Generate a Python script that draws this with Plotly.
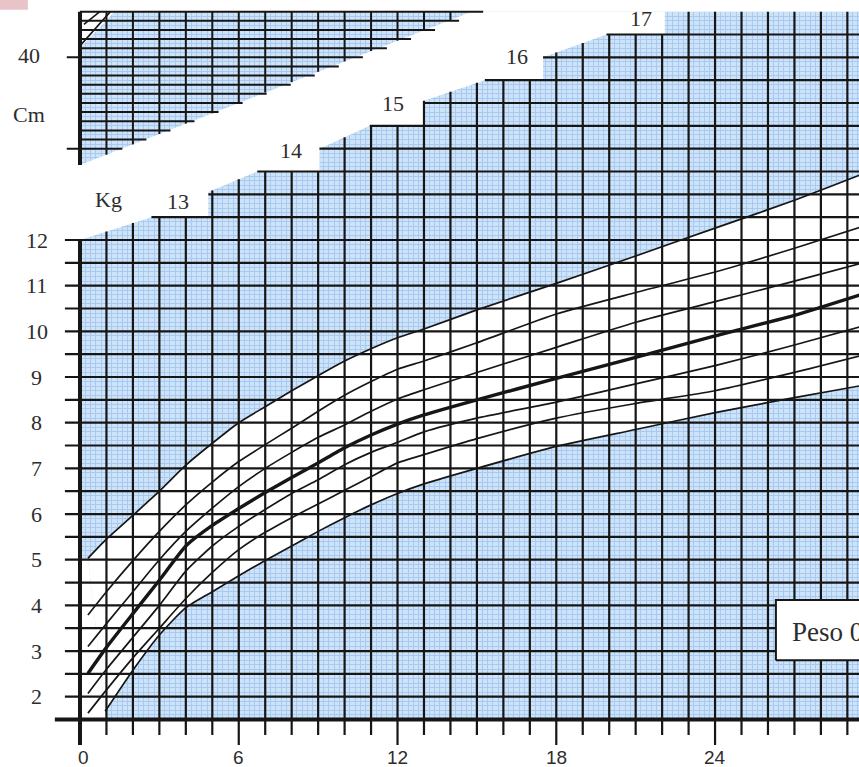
import plotly.graph_objects as go

MONTHS = [0.3, 1, 2, 3, 4, 5, 6, 7, 8, 9, 10, 11, 12, 13, 15, 18, 21, 24, 27, 29.6]
BOTTOM_MONTHS = [0.95, 2, 3, 4, 5, 6, 7, 8, 9, 10, 11, 12, 13, 15, 18, 21, 24, 27, 29.6]

# weight (kg) curves, top to bottom
CURVE_TOP = [5.03, 5.45, 5.97, 6.5, 7.07, 7.55, 8.0, 8.35, 8.7, 9.03, 9.35, 9.62, 9.86, 10.05, 10.47, 11.05, 11.65, 12.26, 12.87, 13.45]
CURVE_2 = [3.79, 4.3, 4.98, 5.62, 6.2, 6.7, 7.15, 7.52, 7.88, 8.25, 8.6, 8.9, 9.17, 9.35, 9.75, 10.38, 10.85, 11.3, 11.82, 12.3]
CURVE_3 = [3.1, 3.6, 4.3, 5.0, 5.62, 6.13, 6.6, 7.0, 7.35, 7.68, 7.95, 8.25, 8.52, 8.72, 9.1, 9.65, 10.2, 10.65, 11.1, 11.5]
CURVE_MEDIAN = [2.51, 3.08, 3.82, 4.55, 5.3, 5.75, 6.12, 6.47, 6.8, 7.12, 7.45, 7.73, 7.97, 8.17, 8.5, 8.97, 9.43, 9.9, 10.35, 10.82]
CURVE_5 = [2.07, 2.6, 3.3, 4.0, 4.75, 5.3, 5.73, 6.1, 6.45, 6.75, 7.08, 7.35, 7.57, 7.8, 8.1, 8.45, 8.85, 9.25, 9.7, 10.12]
CURVE_6 = [1.64, 2.15, 2.85, 3.5, 4.15, 4.72, 5.22, 5.6, 5.92, 6.22, 6.52, 6.82, 7.12, 7.3, 7.65, 8.1, 8.42, 8.7, 9.1, 9.48]
CURVE_BOTTOM = [1.68, 2.58, 3.35, 3.95, 4.3, 4.65, 4.98, 5.3, 5.62, 5.92, 6.2, 6.45, 6.66, 7.0, 7.48, 7.85, 8.22, 8.55, 8.82]

# tick labels
KG_LABELS = [2, 3, 4, 5, 6, 7, 8, 9, 10, 11, 12]
MONTH_LABELS = [0, 6, 12, 18, 24]
STEP_LABELS = ["13", "14", "15", "16", "17"]
STEP_LABEL_MONTH = [3.71, 7.98, 11.84, 16.5, 21.19]
STEP_LABEL_KG = [12.85, 13.95, 14.98, 16.01, 16.85]

# upper edge of the kg grid (staircase) and lower edge of the cm grid
STAIR_MONTH = [0, 2.7, 4.85, 4.85, 6.7, 9.05, 9.05, 10.95, 13.0, 13.0, 15.3, 17.5, 17.5, 19.9, 22.1, 22.1]
STAIR_KG = [12.0, 12.5, 12.5, 13.05, 13.5, 13.5, 14.0, 14.5, 14.5, 15.05, 15.5, 15.5, 16.0, 16.5, 16.5, 17.0]
CM_EDGE_MONTH = [0, 14.8]
CM_EDGE_KG = [13.64, 17.0]

# small hatched corner of the cm chart
HATCH_MONTH = [[0, 1.15], [0.15, 0.75]]
HATCH_KG = [[16.25, 17.0], [16.72, 17.0]]

X_MIN, X_MAX = -3.023, 29.44
Y_MIN, Y_MAX = 0.461, 17.255
AXIS_KG = 1.5
TOP_KG = 17.0

INK = "#161616"
BLUE = "#cce3fa"
FINE = "#a9caee"
SERIF = "Liberation Serif"
SANS = "Liberation Sans"


def stair_start(level):
    pts = list(zip(STAIR_MONTH, STAIR_KG))
    for (x0, y0), (x1, y1) in zip(pts, pts[1:]):
        if y0 < level <= y1:
            if x1 == x0:
                return x0
            return x0 + (level - y0) / (y1 - y0) * (x1 - x0)
    return STAIR_MONTH[-1]


def stair_top(m):
    pts = list(zip(STAIR_MONTH, STAIR_KG))
    best = None
    for (x0, y0), (x1, y1) in zip(pts, pts[1:]):
        if x0 <= m <= x1:
            if x1 == x0:
                val = max(y0, y1)
            else:
                val = y0 + (m - x0) / (x1 - x0) * (y1 - y0)
            best = val if best is None else max(best, val)
    return TOP_KG if best is None else best


def cm_edge(m):
    slope = (CM_EDGE_KG[1] - CM_EDGE_KG[0]) / (CM_EDGE_MONTH[1] - CM_EDGE_MONTH[0])
    return CM_EDGE_KG[0] + slope * m


def lines(xs, ys, width, color=INK):
    return go.Scatter(x=xs, y=ys, mode="lines", line=dict(color=color, width=width),
                      hoverinfo="skip", showlegend=False)


def white_poly(xs, ys, color="white"):
    return go.Scatter(x=xs, y=ys, mode="lines", fill="toself", fillcolor=color,
                      line=dict(width=0), hoverinfo="skip", showlegend=False)


fig = go.Figure()

# white band between the outer curves
spl = dict(shape="spline", smoothing=0.6, width=0)
fig.add_trace(go.Scatter(x=BOTTOM_MONTHS, y=CURVE_BOTTOM, mode="lines", line=spl,
                         hoverinfo="skip", showlegend=False))
fig.add_trace(go.Scatter(x=MONTHS, y=CURVE_TOP, mode="lines", line=spl, fill="tonexty",
                         fillcolor="white", hoverinfo="skip", showlegend=False))
fig.add_trace(white_poly([0, BOTTOM_MONTHS[0], BOTTOM_MONTHS[0], MONTHS[0], 0],
                         [AXIS_KG, AXIS_KG, CURVE_BOTTOM[0], CURVE_TOP[0], CURVE_TOP[0]]))

# white surroundings: left margin, bottom, top strip and gap between kg and cm grids
fig.add_trace(white_poly([X_MIN - 1, 0, 0, X_MIN - 1], [Y_MIN - 1, Y_MIN - 1, Y_MAX + 1, Y_MAX + 1]))
fig.add_trace(white_poly([X_MIN - 1, X_MAX + 1, X_MAX + 1, X_MIN - 1], [Y_MIN - 1, Y_MIN - 1, AXIS_KG, AXIS_KG]))
fig.add_trace(white_poly([X_MIN - 1, X_MAX + 1, X_MAX + 1, X_MIN - 1], [TOP_KG, TOP_KG, Y_MAX + 1, Y_MAX + 1]))
fig.add_trace(white_poly(STAIR_MONTH + [CM_EDGE_MONTH[1], CM_EDGE_MONTH[0]],
                         STAIR_KG + [CM_EDGE_KG[1], CM_EDGE_KG[0]]))
fig.add_trace(white_poly([0, 1.3, 0], [TOP_KG, TOP_KG, 16.2]))

# kg grid: horizontal lines every 0.5 kg
hx, hy = [], []
for i in range(4, 34):
    lvl = i * 0.5
    x0 = -0.57 if lvl <= 12 else stair_start(lvl)
    hx += [x0, X_MAX + 1, None]
    hy += [lvl, lvl, None]
fig.add_trace(lines(hx, hy, 2.2))

# kg grid: vertical lines every month, with ticks under the axis
vx, vy = [], []
for m in range(1, 30):
    y0 = 0.94 if m % 6 == 0 else 1.16
    vx += [m, m, None]
    vy += [y0, stair_top(m), None]
fig.add_trace(lines(vx, vy, 2.2))

# cm grid
cx, cy = [], []
for k in range(16):
    lvl = round(14.0 + 0.2 * k, 2)
    x0 = -0.5 if k in (0, 10) else 0
    cx += [x0, 1.6 + (lvl - 14.0) / 0.22, None]
    cy += [lvl, lvl, None]
for m in range(1, 15):
    cx += [m, m, None]
    cy += [cm_edge(m), TOP_KG, None]
fig.add_trace(lines(cx, cy, 2.0))

# heavy axes
fig.add_trace(lines([-0.95, X_MAX + 1], [AXIS_KG, AXIS_KG], 4))
fig.add_trace(lines([0, 0, None, 0, 0], [0.94, 12.0, None, CM_EDGE_KG[0], TOP_KG], 4))

# hatch marks in the cm corner
for hxs, hys in zip(HATCH_MONTH, HATCH_KG):
    fig.add_trace(lines(hxs, hys, 1.6))

# percentile curves
for vals in [CURVE_TOP, CURVE_2, CURVE_3, CURVE_5, CURVE_6]:
    fig.add_trace(go.Scatter(x=MONTHS, y=vals, mode="lines",
                             line=dict(color=INK, width=1.7, shape="spline", smoothing=0.6),
                             hoverinfo="skip", showlegend=False))
fig.add_trace(go.Scatter(x=BOTTOM_MONTHS, y=CURVE_BOTTOM, mode="lines",
                         line=dict(color=INK, width=1.7, shape="spline", smoothing=0.6),
                         hoverinfo="skip", showlegend=False))
fig.add_trace(go.Scatter(x=MONTHS, y=CURVE_MEDIAN, mode="lines",
                         line=dict(color=INK, width=3.4, shape="spline", smoothing=0.5),
                         hoverinfo="skip", showlegend=False))

# title box (cut off at the right edge)
fig.add_trace(go.Scatter(x=[26.3, 31, 31, 26.3, 26.3], y=[2.8, 2.8, 4.12, 4.12, 2.8], mode="lines",
                         fill="toself", fillcolor="white", line=dict(color=INK, width=2),
                         hoverinfo="skip", showlegend=False))

# pink scan mark in the corner
fig.add_trace(white_poly([X_MIN - 1, -1.97, -1.97, X_MIN - 1], [17.04, 17.04, Y_MAX + 1, Y_MAX + 1],
                         color="#e8c4c8"))

ann = []
for v in KG_LABELS:
    ann.append(dict(x=-1.63, y=v, text=str(v), font=dict(family=SERIF, size=22, color="#2d2d2d")))
for v in MONTH_LABELS:
    ann.append(dict(x=v + (0.12 if v == 0 else 0), y=0.68, text=str(v),
                    font=dict(family=SANS, size=19, color="#2d2d2d")))
for t, mx, ky in zip(STEP_LABELS, STEP_LABEL_MONTH, STEP_LABEL_KG):
    ann.append(dict(x=mx, y=ky, text=t, font=dict(family=SERIF, size=22, color="#2d2d2d")))
ann.append(dict(x=-1.93, y=16.03, text="40", font=dict(family=SERIF, size=22, color="#2d2d2d")))
ann.append(dict(x=-1.93, y=14.74, text="Cm", font=dict(family=SERIF, size=22, color="#2d2d2d")))
ann.append(dict(x=1.06, y=12.88, text="Kg", font=dict(family=SERIF, size=22, color="#2d2d2d")))
ann.append(dict(x=26.85, y=3.42, text="Peso 0", xanchor="left",
                font=dict(family=SERIF, size=27, color="#2d2d2d")))
for a in ann:
    a.update(xref="x", yref="y", showarrow=False)

fig.update_layout(
    width=859, height=767, autosize=False,
    margin=dict(l=0, r=0, t=0, b=0),
    paper_bgcolor="white", plot_bgcolor=BLUE,
    showlegend=False,
    annotations=ann,
    xaxis=dict(range=[X_MIN, X_MAX], showgrid=True, gridcolor=FINE, gridwidth=1,
               tick0=0, dtick=0.2, showticklabels=False, ticks="", zeroline=False,
               showline=False, fixedrange=True),
    yaxis=dict(range=[Y_MIN, Y_MAX], showgrid=True, gridcolor=FINE, gridwidth=1,
               tick0=0, dtick=0.1, showticklabels=False, ticks="", zeroline=False,
               showline=False, fixedrange=True),
)

# the page's default body margin would push the chart 8px off
fig.write_html("out.html", config={"displayModeBar": False},
               post_script="document.body.style.margin='0';")
